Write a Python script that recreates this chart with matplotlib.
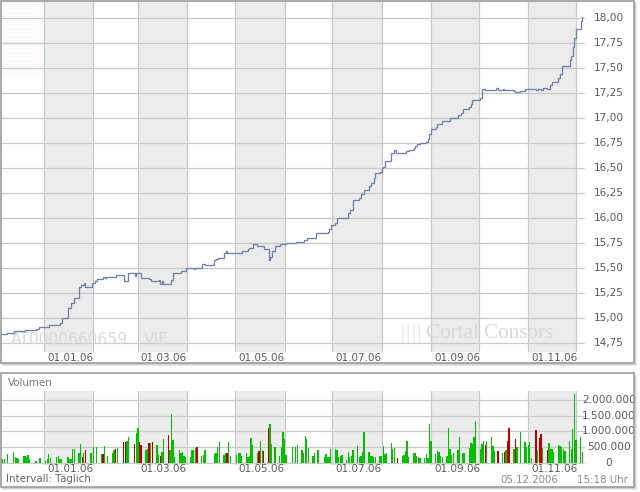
import matplotlib
matplotlib.use('Agg')
import matplotlib.pyplot as plt
import matplotlib.dates as mdates
from matplotlib.patches import Rectangle
from matplotlib.transforms import blended_transform_factory as blend
import pandas as pd

# ---------------- data ----------------
price_dates = [
    "2005-12-05", "2005-12-09", "2005-12-13", "2005-12-20", "2005-12-27", "2005-12-29",
    "2006-01-04", "2006-01-11", "2006-01-12", "2006-01-16", "2006-01-18", "2006-01-20",
    "2006-01-23", "2006-01-24", "2006-01-26", "2006-01-27", "2006-01-31", "2006-02-02",
    "2006-02-03", "2006-02-07", "2006-02-08", "2006-02-09", "2006-02-15", "2006-02-20",
    "2006-02-23", "2006-02-27", "2006-02-28", "2006-03-03", "2006-03-08", "2006-03-09",
    "2006-03-14", "2006-03-15", "2006-03-16", "2006-03-17", "2006-03-22", "2006-03-23",
    "2006-03-28", "2006-03-31", "2006-04-05", "2006-04-06", "2006-04-10", "2006-04-12",
    "2006-04-18", "2006-04-19", "2006-04-20", "2006-04-24", "2006-04-25", "2006-04-26",
    "2006-05-05", "2006-05-09", "2006-05-10", "2006-05-12", "2006-05-15", "2006-05-19",
    "2006-05-22", "2006-05-23", "2006-05-24", "2006-05-26", "2006-05-29", "2006-06-02",
    "2006-06-08", "2006-06-13", "2006-06-15", "2006-06-21", "2006-06-28", "2006-06-29",
    "2006-06-30", "2006-07-03", "2006-07-04", "2006-07-11", "2006-07-12", "2006-07-14",
    "2006-07-18", "2006-07-19", "2006-07-21", "2006-07-24", "2006-07-25", "2006-07-27",
    "2006-07-28", "2006-07-31", "2006-08-01", "2006-08-02", "2006-08-03", "2006-08-07",
    "2006-08-09", "2006-08-10", "2006-08-16", "2006-08-18", "2006-08-21", "2006-08-22",
    "2006-08-23", "2006-08-25", "2006-08-29", "2006-08-30", "2006-08-31", "2006-09-01",
    "2006-09-04", "2006-09-05", "2006-09-08", "2006-09-13", "2006-09-18", "2006-09-20",
    "2006-09-21", "2006-09-25", "2006-09-26", "2006-09-27", "2006-10-02", "2006-10-03",
    "2006-10-05", "2006-10-12", "2006-10-13", "2006-10-16", "2006-10-17", "2006-10-23",
    "2006-10-24", "2006-10-27", "2006-10-30", "2006-11-06", "2006-11-07", "2006-11-09",
    "2006-11-10", "2006-11-13", "2006-11-15", "2006-11-16", "2006-11-20", "2006-11-21",
    "2006-11-22", "2006-11-27", "2006-11-28", "2006-11-29", "2006-11-30", "2006-12-01",
    "2006-12-04", "2006-12-05",
]
price_values = [
    14.84, 14.85, 14.87, 14.88, 14.89, 14.91,
    14.93, 14.95, 15.00, 15.10, 15.15, 15.20,
    15.31, 15.33, 15.35, 15.31, 15.35, 15.37,
    15.39, 15.41, 15.40, 15.41, 15.43, 15.37,
    15.45, 15.42, 15.45, 15.40, 15.39, 15.37,
    15.38, 15.34, 15.37, 15.34, 15.38, 15.45,
    15.47, 15.50, 15.49, 15.50, 15.54, 15.53,
    15.58, 15.59, 15.60, 15.65, 15.67, 15.65,
    15.67, 15.69, 15.70, 15.74, 15.72, 15.69,
    15.58, 15.61, 15.67, 15.72, 15.74, 15.75,
    15.76, 15.78, 15.80, 15.85, 15.86, 15.89,
    15.93, 15.95, 16.00, 16.05, 16.08, 16.18,
    16.20, 16.24, 16.28, 16.32, 16.35, 16.40,
    16.45, 16.46, 16.50, 16.51, 16.57, 16.65,
    16.68, 16.65, 16.67, 16.68, 16.70, 16.72,
    16.74, 16.75, 16.76, 16.79, 16.84, 16.89,
    16.91, 16.94, 16.97, 17.00, 17.03, 17.05,
    17.09, 17.11, 17.14, 17.18, 17.20, 17.29,
    17.28, 17.30, 17.28, 17.29, 17.28, 17.27,
    17.26, 17.27, 17.29, 17.28, 17.29, 17.28,
    17.30, 17.29, 17.33, 17.36, 17.40, 17.44,
    17.52, 17.58, 17.62, 17.71, 17.80, 17.89,
    17.97, 18.01,
]

vol_dates = [
    "2005-12-05", "2005-12-06", "2005-12-07", "2005-12-09", "2005-12-13", "2005-12-14",
    "2005-12-15", "2005-12-16", "2005-12-19", "2005-12-20", "2005-12-21", "2005-12-22",
    "2005-12-23", "2005-12-27", "2005-12-29", "2005-12-30", "2006-01-02", "2006-01-03",
    "2006-01-04", "2006-01-05", "2006-01-09", "2006-01-10", "2006-01-11", "2006-01-12",
    "2006-01-16", "2006-01-17", "2006-01-18", "2006-01-19", "2006-01-20", "2006-01-23",
    "2006-01-24", "2006-01-25", "2006-01-26", "2006-01-27", "2006-01-30", "2006-01-31",
    "2006-02-01", "2006-02-03", "2006-02-06", "2006-02-07", "2006-02-08", "2006-02-10",
    "2006-02-13", "2006-02-14", "2006-02-15", "2006-02-16", "2006-02-20", "2006-02-21",
    "2006-02-22", "2006-02-23", "2006-02-27", "2006-02-28", "2006-03-01", "2006-03-02",
    "2006-03-03", "2006-03-06", "2006-03-07", "2006-03-08", "2006-03-09", "2006-03-10",
    "2006-03-13", "2006-03-14", "2006-03-15", "2006-03-16", "2006-03-17", "2006-03-20",
    "2006-03-21", "2006-03-22", "2006-03-23", "2006-03-24", "2006-03-27", "2006-03-28",
    "2006-03-29", "2006-03-30", "2006-03-31", "2006-04-03", "2006-04-04", "2006-04-05",
    "2006-04-06", "2006-04-07", "2006-04-10", "2006-04-11", "2006-04-12", "2006-04-18",
    "2006-04-19", "2006-04-20", "2006-04-21", "2006-04-24", "2006-04-25", "2006-04-26",
    "2006-04-27", "2006-04-28", "2006-05-02", "2006-05-03", "2006-05-04", "2006-05-05",
    "2006-05-08", "2006-05-09", "2006-05-10", "2006-05-11", "2006-05-12", "2006-05-15",
    "2006-05-16", "2006-05-17", "2006-05-18", "2006-05-19", "2006-05-22", "2006-05-23",
    "2006-05-24", "2006-05-26", "2006-05-29", "2006-05-30", "2006-05-31", "2006-06-01",
    "2006-06-02", "2006-06-06", "2006-06-08", "2006-06-09", "2006-06-12", "2006-06-13",
    "2006-06-14", "2006-06-15", "2006-06-16", "2006-06-19", "2006-06-20", "2006-06-22",
    "2006-06-26", "2006-06-27", "2006-06-28", "2006-06-29", "2006-06-30", "2006-07-03",
    "2006-07-04", "2006-07-05", "2006-07-06", "2006-07-07", "2006-07-10", "2006-07-11",
    "2006-07-12", "2006-07-13", "2006-07-14", "2006-07-17", "2006-07-18", "2006-07-19",
    "2006-07-20", "2006-07-21", "2006-07-24", "2006-07-25", "2006-07-26", "2006-07-27",
    "2006-07-28", "2006-07-31", "2006-08-01", "2006-08-02", "2006-08-03", "2006-08-04",
    "2006-08-07", "2006-08-08", "2006-08-09", "2006-08-11", "2006-08-14", "2006-08-15",
    "2006-08-16", "2006-08-17", "2006-08-18", "2006-08-21", "2006-08-22", "2006-08-23",
    "2006-08-24", "2006-08-25", "2006-08-28", "2006-08-29", "2006-08-30", "2006-08-31",
    "2006-09-01", "2006-09-04", "2006-09-05", "2006-09-06", "2006-09-07", "2006-09-08",
    "2006-09-11", "2006-09-12", "2006-09-13", "2006-09-14", "2006-09-15", "2006-09-18",
    "2006-09-19", "2006-09-21", "2006-09-22", "2006-09-25", "2006-09-26", "2006-09-27",
    "2006-09-28", "2006-09-29", "2006-10-02", "2006-10-03", "2006-10-04", "2006-10-05",
    "2006-10-06", "2006-10-09", "2006-10-10", "2006-10-11", "2006-10-13", "2006-10-16",
    "2006-10-17", "2006-10-18", "2006-10-19", "2006-10-20", "2006-10-23", "2006-10-24",
    "2006-10-25", "2006-10-27", "2006-10-30", "2006-10-31", "2006-11-01", "2006-11-02",
    "2006-11-03", "2006-11-06", "2006-11-07", "2006-11-08", "2006-11-09", "2006-11-10",
    "2006-11-13", "2006-11-14", "2006-11-15", "2006-11-16", "2006-11-17", "2006-11-20",
    "2006-11-21", "2006-11-22", "2006-11-23", "2006-11-24", "2006-11-27", "2006-11-28",
    "2006-11-29", "2006-11-30", "2006-12-01", "2006-12-04", "2006-12-05",
]
vol_thousands = [
    106, 106, 106, 265, 339, 191,
    138, 127, 212, 212, 170, 233,
    127, 64, 138, 138, 64, 106,
    276, 138, 170, 212, 127, 127,
    170, 106, 106, 424, 424, 297,
    594, 170, 297, 403, 318, 297,
    488, 488, 276, 276, 530, 212,
    318, 403, 424, 456, 668, 668,
    700, 827, 594, 933, 1097, 668,
    562, 403, 424, 615, 615, 668,
    562, 244, 212, 350, 764, 880,
    403, 1568, 721, 191, 403, 297,
    350, 212, 170, 170, 403, 403,
    456, 488, 212, 244, 403, 276,
    297, 488, 668, 244, 297, 318,
    668, 212, 244, 297, 297, 212,
    318, 170, 212, 774, 562, 318,
    382, 700, 403, 382, 1123, 1230,
    594, 509, 212, 509, 986, 742,
    244, 488, 509, 562, 403, 297,
    848, 742, 456, 212, 297, 403,
    170, 276, 191, 170, 424, 424,
    403, 170, 212, 244, 85, 339,
    191, 212, 403, 530, 170, 212,
    350, 976, 339, 212, 212, 170,
    170, 212, 212, 530, 276, 297,
    615, 424, 466, 138, 212, 244,
    361, 689, 170, 297, 318, 212,
    170, 138, 138, 276, 138, 1250,
    689, 276, 371, 339, 212, 170,
    212, 1092, 445, 244, 297, 403,
    806, 297, 297, 456, 636, 594,
    827, 1327, 424, 594, 678, 562,
    689, 806, 530, 382, 382, 297,
    339, 403, 700, 1123, 424, 742,
    488, 976, 657, 509, 562, 668,
    148, 1040, 403, 774, 912, 466,
    403, 615, 435, 424, 350, 551,
    530, 488, 424, 371, 689, 424,
    1060, 2179, 721, 827, 350,
]
vol_down = [
    0, 0, 0, 0, 0, 0,
    0, 0, 0, 0, 0, 0,
    0, 0, 0, 0, 0, 0,
    0, 0, 0, 0, 0, 0,
    0, 0, 0, 0, 0, 0,
    0, 1, 0, 1, 0, 0,
    0, 0, 0, 1, 0, 0,
    0, 0, 1, 0, 1, 1,
    0, 0, 1, 0, 0, 1,
    1, 0, 0, 1, 0, 1,
    0, 0, 1, 0, 0, 1,
    0, 0, 0, 0, 0, 0,
    0, 0, 0, 0, 0, 0,
    0, 1, 0, 0, 0, 0,
    0, 0, 0, 0, 0, 1,
    0, 0, 0, 0, 0, 0,
    0, 0, 0, 0, 0, 0,
    1, 0, 0, 1, 1, 0,
    0, 0, 0, 0, 0, 0,
    0, 0, 0, 0, 0, 0,
    0, 0, 0, 0, 0, 0,
    0, 0, 0, 0, 0, 0,
    0, 0, 0, 0, 0, 0,
    0, 0, 0, 0, 0, 0,
    0, 0, 0, 0, 0, 0,
    0, 0, 0, 0, 0, 0,
    0, 0, 0, 1, 0, 0,
    0, 0, 0, 0, 0, 0,
    0, 0, 0, 0, 0, 0,
    0, 0, 0, 0, 0, 0,
    0, 0, 0, 0, 0, 0,
    0, 0, 0, 0, 0, 0,
    0, 0, 0, 0, 0, 1,
    0, 0, 0, 0, 1, 0,
    1, 0, 1, 1, 0, 1,
    0, 0, 0, 0, 0, 0,
    0, 1, 0, 1, 1, 0,
    1, 0, 0, 0, 0, 0,
    0, 0, 0, 0, 0, 0,
    0, 0, 0, 0, 0,
]

price_ticks = [14.75, 15.00, 15.25, 15.50, 15.75, 16.00, 16.25, 16.50,
               16.75, 17.00, 17.25, 17.50, 17.75, 18.00]
vol_ticks = [0, 500000, 1000000, 1500000, 2000000]
month_starts = ["2006-%02d-01" % m for m in range(1, 13)]
shaded_months = ["2006-01-01", "2006-03-01", "2006-05-01",
                 "2006-07-01", "2006-09-01", "2006-11-01"]
x_labels = ["01.01.06", "01.03.06", "01.05.06", "01.07.06", "01.09.06", "01.11.06"]
isin_text = "AT0000660659"
exchange_text = "VIE"

# ---------------- helpers ----------------
W, H = 640, 492
fig = plt.figure(figsize=(6.4, 4.92), dpi=100)
fig.patch.set_facecolor('white')


def fr(x0, y0, x1, y1):
    return [x0 / W, 1 - y1 / H, (x1 - x0) / W, (y1 - y0) / H]


def de_num(v, dec=2):
    s = f"{v:,.{dec}f}"
    return s.replace(",", "X").replace(".", ",").replace("X", ".")


def de_int(v):
    return f"{int(v):,}".replace(",", ".")


TXT = '#5a5a5a'
GRID = '#c9c9c9'
BAND = '#ececec'
FONT = 'DejaVu Sans'

# background: panels with shadow
bg = fig.add_axes([0, 0, 1, 1])
bg.set_xlim(0, W)
bg.set_ylim(H, 0)
bg.axis('off')
for (x0, y0, x1, y1) in [(0, 0, 634, 363), (0, 373, 634, 487)]:
    bg.add_patch(Rectangle((x0 + 3, y0 + 3), x1 - x0, y1 - y0, fc='#e8e8e8', ec='none'))
    bg.add_patch(Rectangle((x0 + 1.5, y0 + 1.5), x1 - x0, y1 - y0, fc='#d2d2d2', ec='none'))
    bg.add_patch(Rectangle((x0, y0), x1 - x0, y1 - y0, fc='white', ec='none'))
# very faint pink stripes at top-left corner
for yy in range(1, 73, 2):
    bg.plot([1, 44], [yy + 0.5, yy + 0.5], color='#fcf3f4', lw=0.5)

mstart = [pd.Timestamp(m) for m in month_starts]
x_left = pd.Timestamp("2005-12-05")
x_right = pd.Timestamp("2006-12-06 16:00")

# ---------------- price panel ----------------
ax = fig.add_axes(fr(1, 1, 585, 352))
ax.set_facecolor('none')
for s in ax.spines.values():
    s.set_visible(False)
ax.set_xticks([])
ax.set_yticks([])
ax.set_xlim(x_left, x_right)
ax.set_ylim(14.66, 18.17)

for m in shaded_months:
    st = pd.Timestamp(m)
    en = st + pd.offsets.MonthBegin(1)
    ax.axvspan(st, en, color=BAND, lw=0, zorder=0)
for m in mstart:
    ax.axvline(m, color=GRID, lw=0.9, zorder=1)
for t in price_ticks:
    ax.axhline(t, color=GRID, lw=0.9, zorder=1)

# watermark texts
ax.text(pd.Timestamp("2005-12-11"), 14.785, isin_text, fontsize=11.2,
        color='#dadada', family=FONT, va='center', ha='left', zorder=2)
ax.text(pd.Timestamp("2006-03-05"), 14.785, exchange_text, fontsize=11.2,
        color='#dadada', family=FONT, va='center', ha='left', zorder=2)
ax.text(pd.Timestamp("2006-08-29"), 14.845, "Cortal Consors", fontsize=15.2,
        color='#d9d9d9', family='Liberation Serif', va='center', ha='left', zorder=2)
ax.add_patch(Rectangle((mdates.date2num(pd.Timestamp("2006-08-13")), 14.75), 13, 0.19,
                       fc='none', ec='#eaeaea', hatch='|||', lw=0, zorder=2))

pd_dates = pd.to_datetime(price_dates)
ax.plot(pd_dates, price_values, drawstyle='steps-post', color='#6f82aa', lw=0.95,
        zorder=3, solid_joinstyle='miter')

tr_y = blend(ax.transAxes, ax.transData)
for t in price_ticks:
    ax.text(1.0411, t, de_num(t), transform=tr_y, ha='center', va='center',
            fontsize=7.6, color=TXT, family=FONT, clip_on=False)
tr_x = blend(ax.transData, ax.transAxes)
for m, lab in zip(shaded_months, x_labels):
    ax.text(pd.Timestamp(m) + pd.Timedelta(days=16.3), -0.016, lab, transform=tr_x,
            ha='center', va='center', fontsize=7.5, color=TXT, family=FONT, clip_on=False)

# ---------------- volume panel ----------------
av = fig.add_axes(fr(1, 391, 585, 465))
av.set_facecolor('none')
for s in av.spines.values():
    s.set_visible(False)
av.set_xticks([])
av.set_yticks([])
av.set_xlim(x_left, x_right)
av.set_ylim(-73000, 2288000)
for m in shaded_months:
    st = pd.Timestamp(m)
    en = st + pd.offsets.MonthBegin(1)
    av.axvspan(st, en, color=BAND, lw=0, zorder=0)
for m in mstart:
    av.axvline(m, color=GRID, lw=0.9, zorder=1)
for t in vol_ticks:
    av.axhline(t, color=GRID, lw=0.9, zorder=1)

vd = pd.to_datetime(vol_dates)
vv = [v * 1000 for v in vol_thousands]
cols = ['#c00000' if d else '#00c000' for d in vol_down]
av.bar(vd, vv, width=0.85, color=cols, lw=0, zorder=3, align='center',
       antialiased=False)

tr_vy = blend(av.transAxes, av.transData)
for t in vol_ticks:
    av.text(1.0411, t, de_int(t), transform=tr_vy, ha='center', va='center',
            fontsize=7.6, color=TXT, family=FONT, clip_on=False)
tr_vx = blend(av.transData, av.transAxes)
for m, lab in zip(shaded_months, x_labels):
    av.text(pd.Timestamp(m) + pd.Timedelta(days=16.3), -0.06, lab, transform=tr_vx,
            ha='center', va='center', fontsize=7.5, color=TXT, family=FONT, clip_on=False)

# ---------------- overlay: borders & texts ----------------
ov = fig.add_axes([0, 0, 1, 1])
ov.set_facecolor('none')
ov.set_xlim(0, W)
ov.set_ylim(H, 0)
ov.axis('off')
for (x0, y0, x1, y1) in [(0.5, 0.5, 634, 363), (0.5, 373, 634, 487)]:
    ov.add_patch(Rectangle((x0, y0), x1 - x0, y1 - y0, fc='none', ec='#9c9c9c', lw=1.2))
ov.text(8, 382.5, "Volumen", fontsize=7.4, color='#777777', family=FONT,
        ha='left', va='center')
ov.text(6, 479.5, "Intervall: Täglich", fontsize=7.4, color='#666666', family=FONT,
        ha='left', va='center')
ov.text(500, 480, "05.12.2006", fontsize=7.4, color='#8a8a8a', family=FONT,
        ha='left', va='center')
ov.text(628, 480, "15:18 Uhr", fontsize=7.4, color='#8a8a8a', family=FONT,
        ha='right', va='center')

fig.savefig("out.png", dpi=100, facecolor='white')
